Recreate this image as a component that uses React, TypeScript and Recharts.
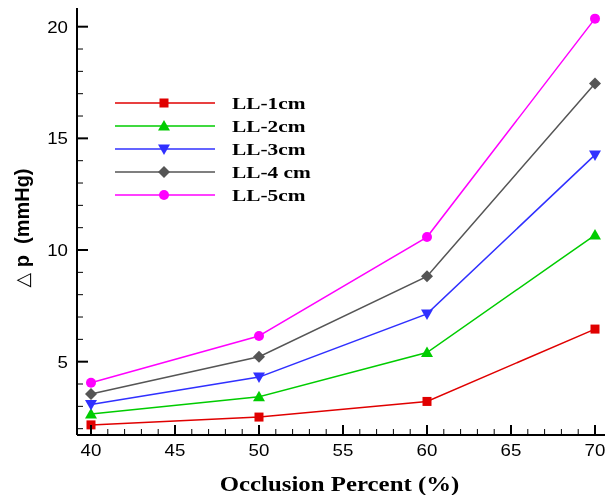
import React from 'react';
import { LineChart, Line, XAxis, YAxis, Legend } from 'recharts';

// occlusion percent (x) and pressure drop per lesion length (mmHg)
const occlusion = [40, 50, 60, 70];
const ll1 = [2.17, 2.52, 3.22, 6.46];
const ll2 = [2.66, 3.43, 5.41, 10.67];
const ll3 = [3.08, 4.31, 7.14, 14.26];
const ll4 = [3.55, 5.22, 8.82, 17.46];
const ll5 = [4.06, 6.15, 10.58, 20.36];

const seriesNames = ['LL-1cm', 'LL-2cm', 'LL-3cm', 'LL-4 cm', 'LL-5cm'];
const seriesKeys = ['ll1', 'll2', 'll3', 'll4', 'll5'];
const seriesColors = ['#e00000', '#00cc00', '#3030ff', '#555555', '#ff00ff'];
const seriesShapes = ['square', 'triangle', 'down', 'diamond', 'circle'];

const xTicks = [
  40, 41, 42, 43, 44, 45, 46, 47, 48, 49, 50, 51, 52, 53, 54, 55,
  56, 57, 58, 59, 60, 61, 62, 63, 64, 65, 66, 67, 68, 69, 70,
];
const yTicks = [2, 3, 4, 5, 6, 7, 8, 9, 10, 11, 12, 13, 14, 15, 16, 17, 18, 19, 20];

const data = occlusion.map((x, i) => ({
  x,
  ll1: ll1[i],
  ll2: ll2[i],
  ll3: ll3[i],
  ll4: ll4[i],
  ll5: ll5[i],
}));

function MarkerShape({ cx, cy, shape, color }: any) {
  if (cx == null || cy == null) return null;
  if (shape === 'square') {
    return <rect x={cx - 4.5} y={cy - 4.5} width={9} height={9} fill={color} />;
  }
  if (shape === 'triangle') {
    return <polygon points={`${cx},${cy - 6} ${cx + 6},${cy + 4.5} ${cx - 6},${cy + 4.5}`} fill={color} />;
  }
  if (shape === 'down') {
    return <polygon points={`${cx - 6},${cy - 4.5} ${cx + 6},${cy - 4.5} ${cx},${cy + 6}`} fill={color} />;
  }
  if (shape === 'diamond') {
    return <polygon points={`${cx},${cy - 6} ${cx + 6},${cy} ${cx},${cy + 6} ${cx - 6},${cy}`} fill={color} />;
  }
  return <circle cx={cx} cy={cy} r={5} fill={color} />;
}

const XTick = (props: any) => {
  const { x, y, payload } = props;
  const major = payload.value % 5 === 0;
  return (
    <g>
      <line x1={x} x2={x} y1={y} y2={y - (major ? 10 : 6)} stroke="#000" strokeWidth={major ? 2 : 1} />
      {major && (
        <text
          transform={`translate(${x} ${y + 21}) scale(1.1 1)`}
          textAnchor="middle"
          fontFamily="'Liberation Sans', Arial, sans-serif"
          fontSize={17}
          fill="#000"
        >
          {payload.value}
        </text>
      )}
    </g>
  );
};

const YTick = (props: any) => {
  const { x, y, payload } = props;
  const major = payload.value % 5 === 0;
  return (
    <g>
      <line x1={x} x2={x + (major ? 11 : 6)} y1={y} y2={y} stroke="#000" strokeWidth={major ? 2 : 1} />
      {major && (
        <text
          transform={`translate(${x - 9} ${y + 6}) scale(1.1 1)`}
          textAnchor="end"
          fontFamily="'Liberation Sans', Arial, sans-serif"
          fontSize={17}
          fill="#000"
        >
          {payload.value}
        </text>
      )}
    </g>
  );
};

function LegendBox() {
  return (
    <svg width={220} height={125}>
      {seriesNames.map((name, i) => {
        const y = 15 + i * 23;
        return (
          <g key={name}>
            <line x1={7} x2={107} y1={y} y2={y} stroke={seriesColors[i]} strokeWidth={1.5} />
            <MarkerShape cx={56} cy={y} shape={seriesShapes[i]} color={seriesColors[i]} />
            <text
              transform={`translate(124 ${y + 6}) scale(1.22 1)`}
              fontFamily="'Liberation Serif', 'Times New Roman', serif"
              fontWeight="bold"
              fontSize={17.5}
              fill="#000"
              style={{ whiteSpace: 'pre' }}
            >
              {name}
            </text>
          </g>
        );
      })}
    </svg>
  );
}

export default function App() {
  return (
    <div style={{ position: 'fixed', left: 8, top: 8, width: 600, height: 487 }}>
      <LineChart
        width={600}
        height={487}
        data={data}
        margin={{ top: 0, right: 3, left: 9, bottom: 30 }}
        style={{ overflow: 'visible' }}
      >
        <XAxis
          dataKey="x"
          type="number"
          domain={[39.167, 70.595]}
          allowDataOverflow
          ticks={xTicks}
          interval={0}
          tick={<XTick />}
          tickLine={false}
          tickSize={0}
          tickMargin={0}
          axisLine={{ stroke: '#000', strokeWidth: 2 }}
          height={30}
        />
        <YAxis
          type="number"
          domain={[1.717, 20.837]}
          allowDataOverflow
          ticks={yTicks}
          interval={0}
          tick={<YTick />}
          tickLine={false}
          tickSize={0}
          tickMargin={0}
          axisLine={{ stroke: '#000', strokeWidth: 2 }}
          width={60}
        />
        {seriesKeys.map((key, i) => (
          <Line
            key={key}
            dataKey={key}
            name={seriesNames[i]}
            stroke={seriesColors[i]}
            strokeWidth={1.5}
            dot={<MarkerShape shape={seriesShapes[i]} color={seriesColors[i]} />}
            activeDot={false}
            isAnimationActive={false}
          />
        ))}
        <Legend
          layout="vertical"
          align="center"
          verticalAlign="middle"
          wrapperStyle={{ position: 'absolute', left: 100, top: 80, width: 220, height: 125 }}
          content={() => <LegendBox />}
        />
        <text
          transform="translate(331.5 483) scale(1.13 1)"
          textAnchor="middle"
          fontFamily="'Liberation Serif', 'Times New Roman', serif"
          fontWeight="bold"
          fontSize={22}
          fill="#000"
        >
          Occlusion Percent (%)
        </text>
        <text
          transform="translate(21 220) rotate(-90)"
          textAnchor="middle"
          fontFamily="'Liberation Sans', Arial, sans-serif"
          fontWeight="bold"
          fontSize={20}
          fill="#000"
          style={{ whiteSpace: 'pre' }}
        >
          <tspan fontFamily="'DejaVu Sans', sans-serif" fontWeight="normal" fontSize={19}>△</tspan>
          {' p  (mmHg)'}
        </text>
      </LineChart>
    </div>
  );
}
